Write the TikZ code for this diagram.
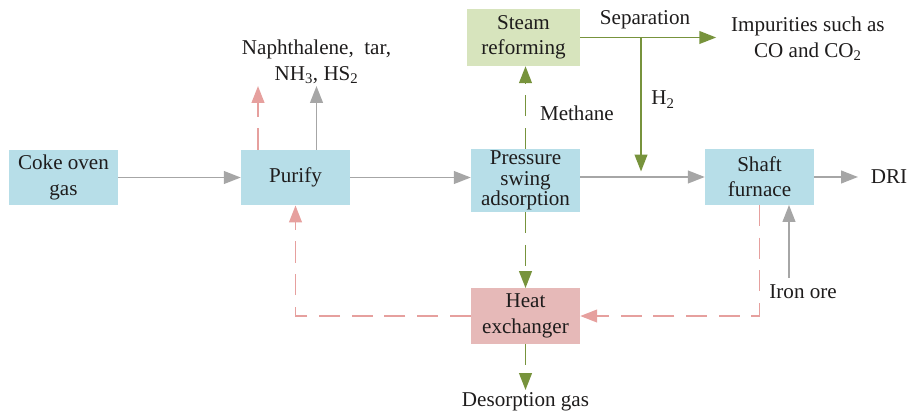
\documentclass[tikz,border=0pt]{standalone}
\usepackage{fontspec}
\setmainfont{Liberation Serif}
\usetikzlibrary{positioning, arrows.meta}
\definecolor{UnitBlue}{RGB}{183,222,232}
\definecolor{UnitGreen}{RGB}{215,228,189}
\definecolor{UnitRed}{RGB}{230,185,184}
\definecolor{FlowGray}{RGB}{166,166,166}
\definecolor{FlowGreen}{RGB}{119,147,60}
\definecolor{FlowRed}{RGB}{230,160,158}
\definecolor{LabelColor}{RGB}{30,28,28}

\begin{document}
\begin{tikzpicture}[
    every node/.style={font=\fontsize{20}{24}\selectfont, text=LabelColor, align=center},
    >={Triangle[length=16pt,width=12pt]},
    unit/.style={minimum width=3.633cm, minimum height=1.85cm, inner sep=1pt},
    grayflow/.style={->, draw=FlowGray, line width=1.8pt},
    greenflow/.style={->, draw=FlowGreen, line width=1.8pt},
    greendash/.style={greenflow, dash pattern=on 20pt off 11pt},
    reddash/.style={->, draw=FlowRed, line width=1.8pt, dash pattern=on 20pt off 11pt},
    lbl/.style={inner sep=2pt},
]
\useasboundingbox (0,0) rectangle (30.3,13.867);

% Process units
\node[unit, fill=UnitBlue] (coke) at (2.117,7.95) {Coke oven\\gas};
\node[unit, fill=UnitBlue] (purify) at (9.85,7.95) {Purify};
\node[unit, fill=UnitBlue, minimum height=2.1cm, font=\fontsize{20}{19.5}\selectfont] (psa) at (17.517,7.85) {Pressure\\swing\\adsorption};
\node[unit, fill=UnitGreen, minimum width=3.767cm, minimum height=1.9cm] (steam) at (17.45,12.617) {Steam\\reforming};
\node[unit, fill=UnitBlue] (shaft) at (25.317,7.967) {Shaft\\furnace};
\node[unit, fill=UnitRed] (heat) at (17.517,3.333) {Heat\\exchanger};

% Stream labels
\node[lbl, anchor=south] (naph) at (10.55,11.0) {Naphthalene,~~tar,\\NH\textsubscript{3}, HS\textsubscript{2}};
\node[lbl] (sep) at (21.5,13.2) {Separation};
\node[lbl, inner xsep=14pt] (imp) at (26.93,12.57) {Impurities such as\\CO and CO\textsubscript{2}};
\node[lbl] (htwo) at (22.1,10.55) {H\textsubscript{2}};
\node[lbl] (methane) at (19.23,10.1) {Methane};
\node[lbl, anchor=west, inner xsep=12pt] (dri) at (28.6,7.967) {DRI};
\node[lbl] (ore) at (26.77,4.133) {Iron ore};
\node[lbl, anchor=north] (desorp) at (17.517,0.867) {Desorption gas};

% Free ends
\coordinate (vent) at (8.6,11.0);
\coordinate (split) at (21.367,12.617);
\coordinate (join) at (21.367,8.15);
\coordinate (orein) at (26.3,4.6);

% Main gas line
\draw[grayflow] (coke) -- (purify);
\draw[grayflow] (purify.east) -- (purify.east -| psa.west);
\draw[grayflow] (shaft.west -| psa.east) -- (shaft.west);
\draw[grayflow] (shaft) -- (dri);
\draw[grayflow] (purify.north -| naph.south) -- (naph.south);
\draw[grayflow] (orein) -- (orein |- shaft.south);

% Hydrogen line
\draw[greenflow] (steam.east) -- (steam.east -| imp.west);
\draw[greenflow] (split) -- (join);
\draw[greendash] (psa.north) -- (psa.north |- steam.south);
\draw[greendash] (psa) -- (heat);
\draw[greendash] (heat) -- (desorp);

% Heat recovery
\draw[reddash] (purify.north -| vent) -- (vent);
\draw[reddash] (shaft.south) |- (heat.east);
\draw[reddash] (heat.west) -| (purify.south);

\end{tikzpicture}
\end{document}
